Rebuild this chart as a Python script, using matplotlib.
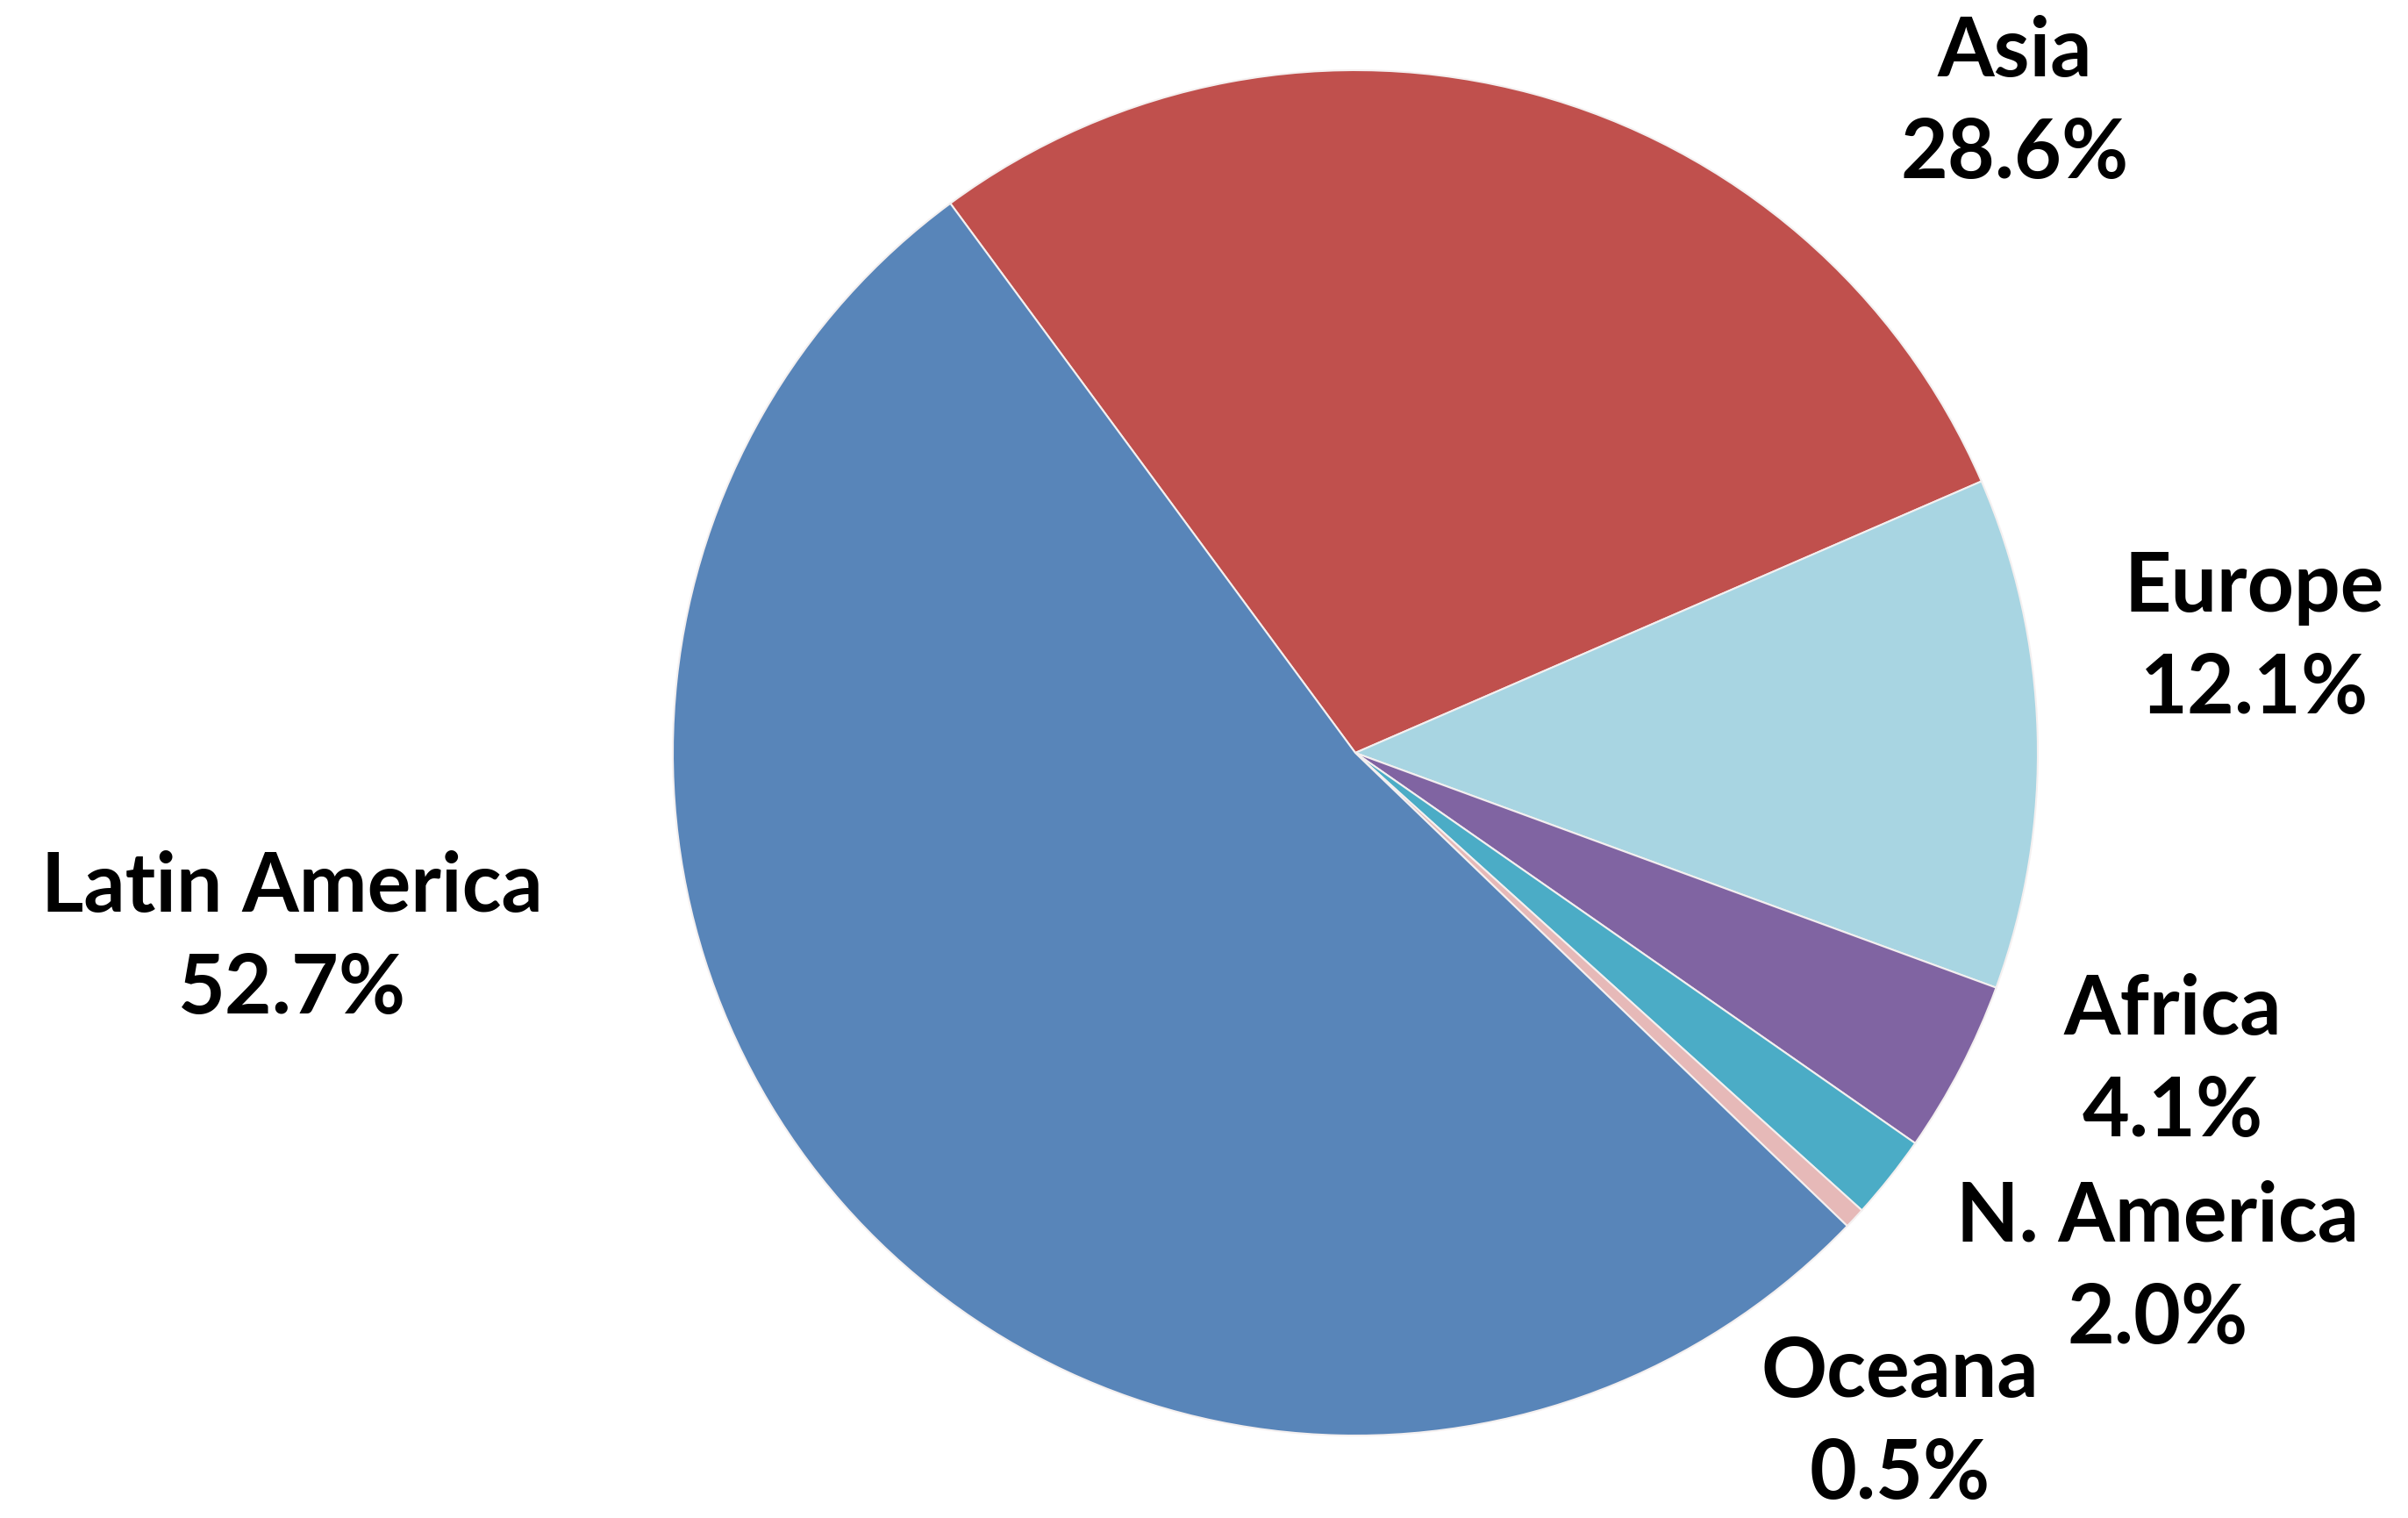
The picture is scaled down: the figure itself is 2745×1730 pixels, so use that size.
import matplotlib
matplotlib.use('Agg')
import matplotlib.pyplot as plt

regions = ['Asia', 'Europe', 'Africa', 'N. America', 'Oceana', 'Latin America']
shares = [28.6, 12.1, 4.1, 2.0, 0.5, 52.7]
colors = ['#C0504D', '#A8D5E2', '#8064A2', '#4BACC6', '#E6B9B8', '#5885B9']

W, H = 2745, 1730

# label anchor points (pixel coords, top-left origin)
label_pos = [(2297, 118), (2570, 728), (2477, 1210), (2460, 1446),
             (2166, 1623), (333, 1070)]

fig = plt.figure(figsize=(W / 100, H / 100), dpi=100)
ax = fig.add_axes([0, 0, 1, 1])

ax.pie(shares, colors=colors, startangle=126.4, counterclock=False,
       center=(1545, H - 858), radius=778, frame=True,
       wedgeprops=dict(edgecolor='#f4f0f0', linewidth=1.5))
ax.set_xlim(0, W)
ax.set_ylim(0, H)
ax.set_aspect('equal')
ax.axis('off')

for name, val, (x, y) in zip(regions, shares, label_pos):
    ax.text(x, H - y, name + '\n' + '%.1f%%' % val, ha='center', va='center',
            fontsize=67, fontweight='bold', family='Lato',
            linespacing=1.42, color='black')

fig.savefig('out.png', dpi=100, facecolor='white')
plt.close()
